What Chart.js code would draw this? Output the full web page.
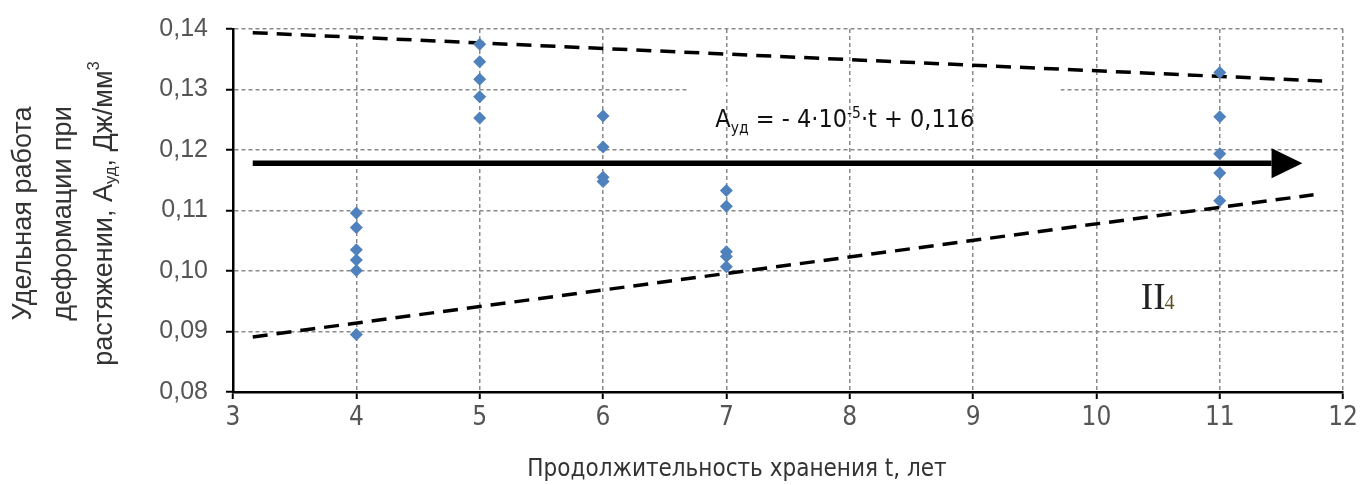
<!DOCTYPE html>
<html>
<head>
<meta charset="utf-8">
<script src="https://cdn.jsdelivr.net/npm/chart.js@4.4.1/dist/chart.umd.min.js"></script>
<style>
  body { margin: 0; background: #fff; }
</style>
</head>
<body>
<canvas id="myChart" width="1362" height="485"></canvas>
<script>
// years of storage with measured points
var years = [4, 5, 6, 7, 11];
var vals4 = [0.1096, 0.1072, 0.1035, 0.1018, 0.1001, 0.0895];
var vals5 = [0.1375, 0.1346, 0.1317, 0.1288, 0.1253];
var vals6 = [0.1256, 0.1205, 0.1155, 0.1148];
var vals7 = [0.1133, 0.1107, 0.1032, 0.1024, 0.1007];
var vals11 = [0.1328, 0.1255, 0.1194, 0.1162, 0.1116];

// envelope lines (dashed) and the trend arrow
var upperX = [3.16, 11.83];
var upperY = [0.1394, 0.1314];
var lowerX = [3.16, 11.76];
var lowerY = [0.0891, 0.1126];
var arrowX = [3.16, 11.42];
var arrowY = [0.1178, 0.1178];
var arrowTipX = 11.67;

// axis range and ticks
var xTicks = [3, 4, 5, 6, 7, 8, 9, 10, 11, 12];
var yTicks = [0.08, 0.09, 0.10, 0.11, 0.12, 0.13, 0.14];

// annotation anchors (in data units)
var eqAt = [6.91, 0.1238];
var zoneAt = [10.36, 0.0937];

var NARROW = "'Liberation Sans Narrow', 'Arial Narrow', 'DejaVu Sans Condensed', sans-serif";
var SANS = "'Liberation Sans', Arial, sans-serif";

var pts = [];
var groups = [vals4, vals5, vals6, vals7, vals11];
for (var g = 0; g < groups.length; g++) {
  for (var k = 0; k < groups[g].length; k++) {
    pts.push({x: years[g], y: groups[g][k]});
  }
}
var toXY = function (xs, ys) {
  var out = [];
  for (var i = 0; i < xs.length; i++) out.push({x: xs[i], y: ys[i]});
  return out;
};

// draw text pieces (normal / sub / sup); align 'center' or 'left' at (0,0)
var drawPieces = function (ctx, pieces, size, family, align) {
  var total = 0, i;
  for (i = 0; i < pieces.length; i++) {
    var s = pieces[i][1] ? size * 0.62 : size;
    ctx.font = s + "px " + family;
    pieces[i].w = ctx.measureText(pieces[i][0]).width;
    total += pieces[i].w;
  }
  var x = align === 'left' ? 0 : -total / 2;
  for (i = 0; i < pieces.length; i++) {
    var kind = pieces[i][1];
    var fs = kind ? size * 0.62 : size;
    ctx.font = fs + "px " + family;
    var dy = kind === 'sub' ? size * 0.22 : (kind === 'sup' ? -size * 0.38 : 0);
    ctx.fillText(pieces[i][0], x, dy);
    x += pieces[i].w;
  }
};

var extras = {
  id: 'extras',
  beforeDatasetsDraw: function (chart) {
    var ctx = chart.ctx, xs = chart.scales.x, ys = chart.scales.y;
    // white box behind the equation hides part of the grid
    ctx.save();
    ctx.fillStyle = '#fff';
    var x1 = xs.getPixelForValue(6.68), x2 = xs.getPixelForValue(9.71);
    var yy = ys.getPixelForValue(0.13);
    ctx.fillRect(x1, yy - 3, x2 - x1, 6);
    ctx.restore();
  },
  afterDatasetsDraw: function (chart) {
    var ctx = chart.ctx, xs = chart.scales.x, ys = chart.scales.y;
    // arrow head
    var bx = xs.getPixelForValue(arrowX[1]);
    var tx = xs.getPixelForValue(arrowTipX);
    var ay = ys.getPixelForValue(arrowY[1]);
    ctx.save();
    ctx.fillStyle = '#000';
    ctx.beginPath();
    ctx.moveTo(bx, ay - 15);
    ctx.lineTo(tx, ay);
    ctx.lineTo(bx, ay + 15);
    ctx.closePath();
    ctx.fill();

    // equation
    ctx.fillStyle = '#111';
    ctx.textBaseline = 'alphabetic';
    ctx.textAlign = 'left';
    ctx.translate(xs.getPixelForValue(eqAt[0]), ys.getPixelForValue(eqAt[1]));
    var eq = [['А'], ['уд', 'sub'], [' = - 4·10'], ['-5', 'sup'], ['·t + 0,116']];
    drawPieces(ctx, eq, 25, NARROW, 'left');
    ctx.restore();

    // zone label
    ctx.save();
    ctx.textAlign = 'left';
    ctx.textBaseline = 'alphabetic';
    var zx = xs.getPixelForValue(zoneAt[0]), zy = ys.getPixelForValue(zoneAt[1]);
    ctx.fillStyle = '#222';
    ctx.font = "37px 'Liberation Serif', 'DejaVu Serif', serif";
    ctx.fillText('II', zx, zy);
    var w = ctx.measureText('II').width;
    ctx.fillStyle = '#5e4f22';
    ctx.font = "20px 'Liberation Serif', 'DejaVu Serif', serif";
    ctx.fillText('4', zx + w - 1, zy);
    ctx.restore();
  },
  afterDraw: function (chart) {
    var ctx = chart.ctx, ca = chart.chartArea;
    ctx.save();
    ctx.fillStyle = '#333';
    ctx.textAlign = 'left';
    ctx.textBaseline = 'middle';
    // y title, three rotated lines
    var cy = (ca.top + ca.bottom) / 2 + 3;
    var lines = [
      [['Удельная работа']],
      [['деформации при']],
      [['растяжении, А'], ['уд', 'sub'], [', Дж/мм'], ['3', 'sup']]
    ];
    var cxs = [24, 64, 105];
    for (var i = 0; i < lines.length; i++) {
      ctx.save();
      ctx.translate(cxs[i], cy);
      ctx.rotate(-Math.PI / 2);
      drawPieces(ctx, lines[i], 27, SANS);
      ctx.restore();
    }
    // x title
    ctx.translate(737, 470);
    drawPieces(ctx, [['Продолжительность хранения t, лет']], 24, NARROW);
    ctx.restore();
  }
};

var ctx = document.getElementById('myChart');
var myChart = new Chart(ctx, {
  type: 'scatter',
  data: {
    datasets: [
      {
        label: 'points',
        data: pts,
        pointStyle: 'rectRot',
        pointRadius: 6.5,
        pointBackgroundColor: '#4f81bd',
        pointBorderColor: '#4f81bd',
        pointBorderWidth: 0
      },
      {
        label: 'arrow',
        data: toXY(arrowX, arrowY),
        showLine: true,
        borderColor: '#000',
        borderWidth: 5.5,
        pointRadius: 0
      },
      {
        label: 'upper',
        data: toXY(upperX, upperY),
        showLine: true,
        borderColor: '#000',
        borderWidth: 3.5,
        borderDash: [15, 9],
        pointRadius: 0
      },
      {
        label: 'lower',
        data: toXY(lowerX, lowerY),
        showLine: true,
        borderColor: '#000',
        borderWidth: 3.5,
        borderDash: [15, 9],
        pointRadius: 0
      }
    ]
  },
  options: {
    responsive: false,
    animation: false,
    devicePixelRatio: 1,
    layout: { padding: { top: 25, right: 17, left: 0, bottom: 0 } },
    plugins: {
      legend: { display: false },
      tooltip: { enabled: false }
    },
    scales: {
      x: {
        type: 'linear',
        min: xTicks[0],
        max: xTicks[xTicks.length - 1],
        afterBuildTicks: function (s) { s.ticks = xTicks.map(function (v) { return {value: v}; }); },
        afterFit: function (s) { s.height = 93; },
        ticks: {
          color: '#555',
          font: { family: NARROW, size: 26 },
          padding: 4
        },
        grid: {
          color: '#8a8a8a',
          lineWidth: 1.5,
          tickLength: 7,
          tickColor: '#000',
          tickWidth: 2,
          tickBorderDash: []
        },
        border: { color: '#000', width: 2.5, dash: [4, 3] }
      },
      y: {
        type: 'linear',
        min: yTicks[0],
        max: yTicks[yTicks.length - 1],
        afterBuildTicks: function (s) { s.ticks = yTicks.map(function (v) { return {value: v}; }); },
        afterFit: function (s) { s.width = 233; },
        ticks: {
          color: '#555',
          font: { family: SANS, size: 25, lineHeight: 0.88 },
          padding: 18,
          callback: function (v) { return v.toFixed(2).replace('.', ','); }
        },
        grid: {
          color: '#8a8a8a',
          lineWidth: 1.5,
          tickLength: 7,
          tickColor: '#000',
          tickWidth: 2,
          tickBorderDash: []
        },
        border: { color: '#000', width: 2.5, dash: [4, 3] }
      }
    }
  },
  plugins: [extras]
});
</script>
</body>
</html>
